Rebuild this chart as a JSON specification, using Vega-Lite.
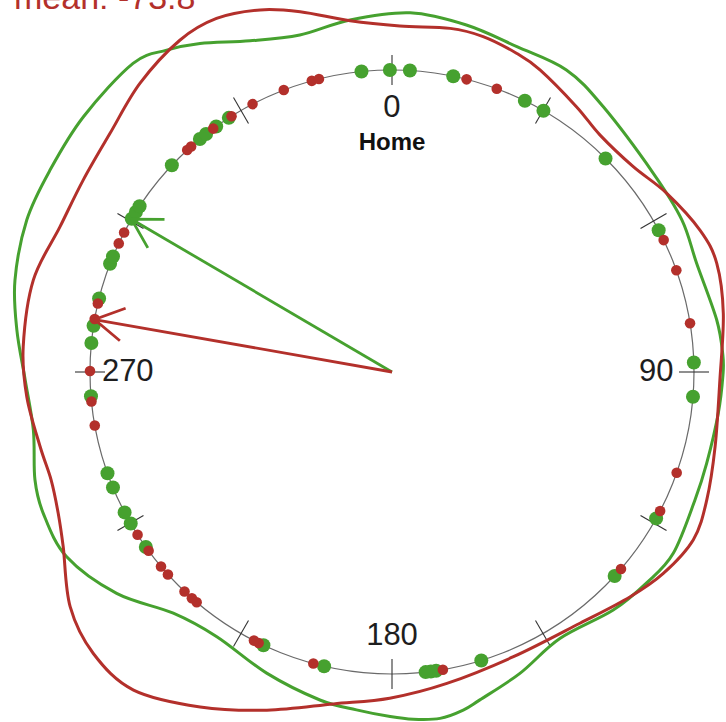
{
  "$schema": "https://vega.github.io/schema/vega-lite/v6.json",
  "width": 726,
  "height": 722,
  "autosize": "none",
  "padding": 0,
  "background": "#ffffff",
  "config": {"view": {"stroke": null}},
  "datasets": {
    "dots": [
      {"g": "green", "a": 359.6}, {"g": "green", "a": 3.4}, {"g": "green", "a": 11.7}, {"g": "green", "a": 26.1},
      {"g": "green", "a": 30.1}, {"g": "green", "a": 45.0}, {"g": "green", "a": 62.0}, {"g": "green", "a": 88.2},
      {"g": "green", "a": 94.7}, {"g": "green", "a": 119.0}, {"g": "green", "a": 132.5}, {"g": "green", "a": 162.8},
      {"g": "green", "a": 171.6}, {"g": "green", "a": 172.6}, {"g": "green", "a": 173.6}, {"g": "green", "a": 193.0},
      {"g": "green", "a": 205.2}, {"g": "green", "a": 234.6}, {"g": "green", "a": 239.9}, {"g": "green", "a": 242.3},
      {"g": "green", "a": 247.5}, {"g": "green", "a": 250.4}, {"g": "green", "a": 265.4}, {"g": "green", "a": 275.5},
      {"g": "green", "a": 278.8}, {"g": "green", "a": 284.1}, {"g": "green", "a": 291.0}, {"g": "green", "a": 292.5},
      {"g": "green", "a": 300.5}, {"g": "green", "a": 302.0}, {"g": "green", "a": 303.3}, {"g": "green", "a": 313.2},
      {"g": "green", "a": 320.5}, {"g": "green", "a": 322.0}, {"g": "green", "a": 324.4}, {"g": "green", "a": 327.3},
      {"g": "green", "a": 354.2},
      {"g": "red", "a": 14.3}, {"g": "red", "a": 20.3}, {"g": "red", "a": 64.1}, {"g": "red", "a": 70.3},
      {"g": "red", "a": 80.7}, {"g": "red", "a": 109.5}, {"g": "red", "a": 117.4}, {"g": "red", "a": 130.7},
      {"g": "red", "a": 170.3}, {"g": "red", "a": 195.1}, {"g": "red", "a": 206.2}, {"g": "red", "a": 207.2},
      {"g": "red", "a": 220.3}, {"g": "red", "a": 221.5}, {"g": "red", "a": 223.4}, {"g": "red", "a": 227.9},
      {"g": "red", "a": 229.9}, {"g": "red", "a": 233.7}, {"g": "red", "a": 237.4}, {"g": "red", "a": 259.8},
      {"g": "red", "a": 264.4}, {"g": "red", "a": 270.2}, {"g": "red", "a": 280.1}, {"g": "red", "a": 283.1},
      {"g": "red", "a": 295.2}, {"g": "red", "a": 297.5}, {"g": "red", "a": 317.3}, {"g": "red", "a": 318.3},
      {"g": "red", "a": 323.7}, {"g": "red", "a": 327.9}, {"g": "red", "a": 332.5}, {"g": "red", "a": 339.0},
      {"g": "red", "a": 344.6}, {"g": "red", "a": 346.0}
    ],
    "density": [
      {"g": "green", "a": 2.9, "r": 1.191}, {"g": "green", "a": 12.1, "r": 1.175}, {"g": "green", "a": 21.0, "r": 1.154},
      {"g": "green", "a": 30.0, "r": 1.155}, {"g": "green", "a": 38.5, "r": 1.123}, {"g": "green", "a": 52.8, "r": 1.087},
      {"g": "green", "a": 62.3, "r": 1.084}, {"g": "green", "a": 70.4, "r": 1.071}, {"g": "green", "a": 80.9, "r": 1.089},
      {"g": "green", "a": 87.1, "r": 1.097}, {"g": "green", "a": 90.5, "r": 1.096}, {"g": "green", "a": 97.2, "r": 1.089},
      {"g": "green", "a": 106.2, "r": 1.085}, {"g": "green", "a": 112.9, "r": 1.089}, {"g": "green", "a": 122.8, "r": 1.108},
      {"g": "green", "a": 129.5, "r": 1.095}, {"g": "green", "a": 137.1, "r": 1.076}, {"g": "green", "a": 147.8, "r": 1.043},
      {"g": "green", "a": 157.0, "r": 1.084}, {"g": "green", "a": 165.0, "r": 1.124}, {"g": "green", "a": 168.1, "r": 1.144},
      {"g": "green", "a": 172.1, "r": 1.158}, {"g": "green", "a": 176.5, "r": 1.152}, {"g": "green", "a": 180.3, "r": 1.141},
      {"g": "green", "a": 186.0, "r": 1.125}, {"g": "green", "a": 192.4, "r": 1.112}, {"g": "green", "a": 202.6, "r": 1.080},
      {"g": "green", "a": 213.5, "r": 1.051}, {"g": "green", "a": 222.2, "r": 1.078}, {"g": "green", "a": 231.2, "r": 1.170},
      {"g": "green", "a": 240.4, "r": 1.239}, {"g": "green", "a": 247.9, "r": 1.246}, {"g": "green", "a": 253.2, "r": 1.235},
      {"g": "green", "a": 260.8, "r": 1.203}, {"g": "green", "a": 268.8, "r": 1.215}, {"g": "green", "a": 276.4, "r": 1.250},
      {"g": "green", "a": 283.7, "r": 1.285}, {"g": "green", "a": 292.6, "r": 1.310}, {"g": "green", "a": 300.6, "r": 1.315},
      {"g": "green", "a": 309.6, "r": 1.326}, {"g": "green", "a": 320.0, "r": 1.334}, {"g": "green", "a": 325.0, "r": 1.301},
      {"g": "green", "a": 329.7, "r": 1.260}, {"g": "green", "a": 336.8, "r": 1.193}, {"g": "green", "a": 344.7, "r": 1.157},
      {"g": "green", "a": 353.2, "r": 1.174},
      {"g": "red", "a": 1.3, "r": 1.146}, {"g": "red", "a": 9.6, "r": 1.154}, {"g": "red", "a": 15.2, "r": 1.151},
      {"g": "red", "a": 21.4, "r": 1.133}, {"g": "red", "a": 26.1, "r": 1.114}, {"g": "red", "a": 34.8, "r": 1.070},
      {"g": "red", "a": 41.3, "r": 1.044}, {"g": "red", "a": 49.6, "r": 1.049}, {"g": "red", "a": 56.9, "r": 1.085},
      {"g": "red", "a": 65.3, "r": 1.123}, {"g": "red", "a": 71.5, "r": 1.134}, {"g": "red", "a": 80.0, "r": 1.114},
      {"g": "red", "a": 91.4, "r": 1.086}, {"g": "red", "a": 103.0, "r": 1.098}, {"g": "red", "a": 112.1, "r": 1.125},
      {"g": "red", "a": 119.1, "r": 1.142}, {"g": "red", "a": 126.6, "r": 1.119}, {"g": "red", "a": 133.4, "r": 1.084},
      {"g": "red", "a": 143.2, "r": 1.039}, {"g": "red", "a": 156.9, "r": 1.025}, {"g": "red", "a": 170.0, "r": 1.047},
      {"g": "red", "a": 180.4, "r": 1.080}, {"g": "red", "a": 190.0, "r": 1.116}, {"g": "red", "a": 200.3, "r": 1.194},
      {"g": "red", "a": 209.8, "r": 1.278}, {"g": "red", "a": 219.1, "r": 1.357}, {"g": "red", "a": 226.7, "r": 1.359},
      {"g": "red", "a": 233.9, "r": 1.319}, {"g": "red", "a": 242.0, "r": 1.233}, {"g": "red", "a": 247.1, "r": 1.200},
      {"g": "red", "a": 252.4, "r": 1.184}, {"g": "red", "a": 258.0, "r": 1.191}, {"g": "red", "a": 266.1, "r": 1.212},
      {"g": "red", "a": 273.9, "r": 1.224}, {"g": "red", "a": 284.4, "r": 1.226}, {"g": "red", "a": 293.6, "r": 1.200},
      {"g": "red", "a": 301.9, "r": 1.204}, {"g": "red", "a": 310.2, "r": 1.223}, {"g": "red", "a": 318.9, "r": 1.269},
      {"g": "red", "a": 327.4, "r": 1.304}, {"g": "red", "a": 333.6, "r": 1.307}, {"g": "red", "a": 340.0, "r": 1.276},
      {"g": "red", "a": 345.7, "r": 1.231}, {"g": "red", "a": 353.2, "r": 1.171}
    ],
    "means": [
      {"g": "green", "a": 300.4, "rho": 1.0},
      {"g": "red", "a": 280.0, "rho": 1.0}
    ],
    "ticks": [
      {"a": 0}, {"a": 30}, {"a": 60}, {"a": 90}, {"a": 120}, {"a": 150},
      {"a": 180}, {"a": 210}, {"a": 240}, {"a": 270}, {"a": 300}, {"a": 330}
    ],
    "labels": [
      {"label": "0", "a": 0}, {"label": "90", "a": 90}, {"label": "180", "a": 180}, {"label": "270", "a": 270}
    ]
  },
  "layer": [
    {
      "data": {"values": [{}]},
      "mark": {"type": "point", "shape": "circle", "size": 364816, "filled": false, "color": "#6a6a6a", "strokeWidth": 1.2, "opacity": 1},
      "encoding": {
        "x": {"datum": 0, "type": "quantitative", "scale": {"domain": [-1.29801, 1.10596], "nice": false, "zero": false}, "axis": null},
        "y": {"datum": 0, "type": "quantitative", "scale": {"domain": [-1.15894, 1.23179], "nice": false, "zero": false}, "axis": null}
      }
    },
    {
      "data": {"name": "ticks"},
      "transform": [
        {"calculate": "sin(datum.a * PI / 180)", "as": "x"},
        {"calculate": "cos(datum.a * PI / 180)", "as": "y"}
      ],
      "mark": {"type": "point", "shape": "M0,-1L0,1", "size": 900, "filled": false, "color": "#333333", "strokeWidth": 1.1, "opacity": 1},
      "encoding": {
        "x": {"field": "x", "type": "quantitative", "axis": null},
        "y": {"field": "y", "type": "quantitative", "axis": null},
        "angle": {"field": "a", "type": "quantitative", "scale": {"domain": [0, 360], "range": [0, 360]}}
      }
    },
    {
      "data": {"name": "dots"},
      "transform": [
        {"filter": "datum.g === 'green'"},
        {"calculate": "sin(datum.a * PI / 180)", "as": "x"},
        {"calculate": "cos(datum.a * PI / 180)", "as": "y"}
      ],
      "mark": {"type": "point", "shape": "circle", "filled": true, "color": "#46a12f", "size": 196, "opacity": 1},
      "encoding": {
        "x": {"field": "x", "type": "quantitative", "axis": null},
        "y": {"field": "y", "type": "quantitative", "axis": null}
      }
    },
    {
      "data": {"name": "dots"},
      "transform": [
        {"filter": "datum.g === 'red'"},
        {"calculate": "sin(datum.a * PI / 180)", "as": "x"},
        {"calculate": "cos(datum.a * PI / 180)", "as": "y"}
      ],
      "mark": {"type": "point", "shape": "circle", "filled": true, "color": "#b3302b", "size": 112, "opacity": 1},
      "encoding": {
        "x": {"field": "x", "type": "quantitative", "axis": null},
        "y": {"field": "y", "type": "quantitative", "axis": null}
      }
    },
    {
      "data": {"name": "density"},
      "transform": [
        {"filter": "datum.g === 'green'"},
        {"calculate": "datum.r * sin(datum.a * PI / 180)", "as": "x"},
        {"calculate": "datum.r * cos(datum.a * PI / 180)", "as": "y"}
      ],
      "mark": {"type": "line", "interpolate": "cardinal-closed", "color": "#46a12f", "strokeWidth": 3},
      "encoding": {
        "x": {"field": "x", "type": "quantitative", "axis": null},
        "y": {"field": "y", "type": "quantitative", "axis": null},
        "order": {"field": "a", "type": "quantitative"}
      }
    },
    {
      "data": {"name": "density"},
      "transform": [
        {"filter": "datum.g === 'red'"},
        {"calculate": "datum.r * sin(datum.a * PI / 180)", "as": "x"},
        {"calculate": "datum.r * cos(datum.a * PI / 180)", "as": "y"}
      ],
      "mark": {"type": "line", "interpolate": "cardinal-closed", "color": "#b3302b", "strokeWidth": 3},
      "encoding": {
        "x": {"field": "x", "type": "quantitative", "axis": null},
        "y": {"field": "y", "type": "quantitative", "axis": null},
        "order": {"field": "a", "type": "quantitative"}
      }
    },
    {
      "data": {"name": "means"},
      "transform": [
        {"calculate": "datum.rho * sin(datum.a * PI / 180)", "as": "x"},
        {"calculate": "datum.rho * cos(datum.a * PI / 180)", "as": "y"}
      ],
      "mark": {"type": "rule", "strokeWidth": 2.8},
      "encoding": {
        "x": {"field": "x", "type": "quantitative", "axis": null},
        "y": {"field": "y", "type": "quantitative", "axis": null},
        "x2": {"datum": 0},
        "y2": {"datum": 0},
        "color": {"field": "g", "type": "nominal", "scale": {"domain": ["green", "red"], "range": ["#46a12f", "#b3302b"]}, "legend": null}
      }
    },
    {
      "data": {"name": "means"},
      "transform": [
        {"calculate": "datum.rho * sin(datum.a * PI / 180)", "as": "x"},
        {"calculate": "datum.rho * cos(datum.a * PI / 180)", "as": "y"}
      ],
      "mark": {"type": "point", "shape": "M-0.5,0.866L0,0L0.5,0.866", "size": 4356, "filled": false, "strokeWidth": 2.8, "opacity": 1},
      "encoding": {
        "x": {"field": "x", "type": "quantitative", "axis": null},
        "y": {"field": "y", "type": "quantitative", "axis": null},
        "angle": {"field": "a", "type": "quantitative", "scale": {"domain": [0, 360], "range": [0, 360]}},
        "color": {"field": "g", "type": "nominal", "scale": {"domain": ["green", "red"], "range": ["#46a12f", "#b3302b"]}, "legend": null}
      }
    },
    {
      "data": {"name": "labels"},
      "transform": [
        {"calculate": "0.875 * sin(datum.a * PI / 180)", "as": "x"},
        {"calculate": "0.875 * cos(datum.a * PI / 180)", "as": "y"}
      ],
      "mark": {"type": "text", "font": "Liberation Sans", "fontSize": 31, "color": "#1e1e1e", "align": "center", "baseline": "middle"},
      "encoding": {
        "x": {"field": "x", "type": "quantitative", "axis": null},
        "y": {"field": "y", "type": "quantitative", "axis": null},
        "text": {"field": "label", "type": "nominal"}
      }
    },
    {
      "data": {"values": [{}]},
      "mark": {"type": "text", "text": "Home", "font": "Liberation Sans", "fontSize": 24, "fontWeight": "bold", "color": "#111111", "align": "center", "baseline": "middle"},
      "encoding": {"x": {"datum": 0, "type": "quantitative"}, "y": {"datum": 0.757, "type": "quantitative"}}
    },
    {
      "data": {"values": [{}]},
      "mark": {"type": "text", "text": "mean: -73.8", "font": "Liberation Sans", "fontSize": 34, "color": "#b3302b", "align": "left", "baseline": "alphabetic"},
      "encoding": {"x": {"datum": -1.2517, "type": "quantitative"}, "y": {"datum": 1.202, "type": "quantitative"}}
    }
  ]
}
